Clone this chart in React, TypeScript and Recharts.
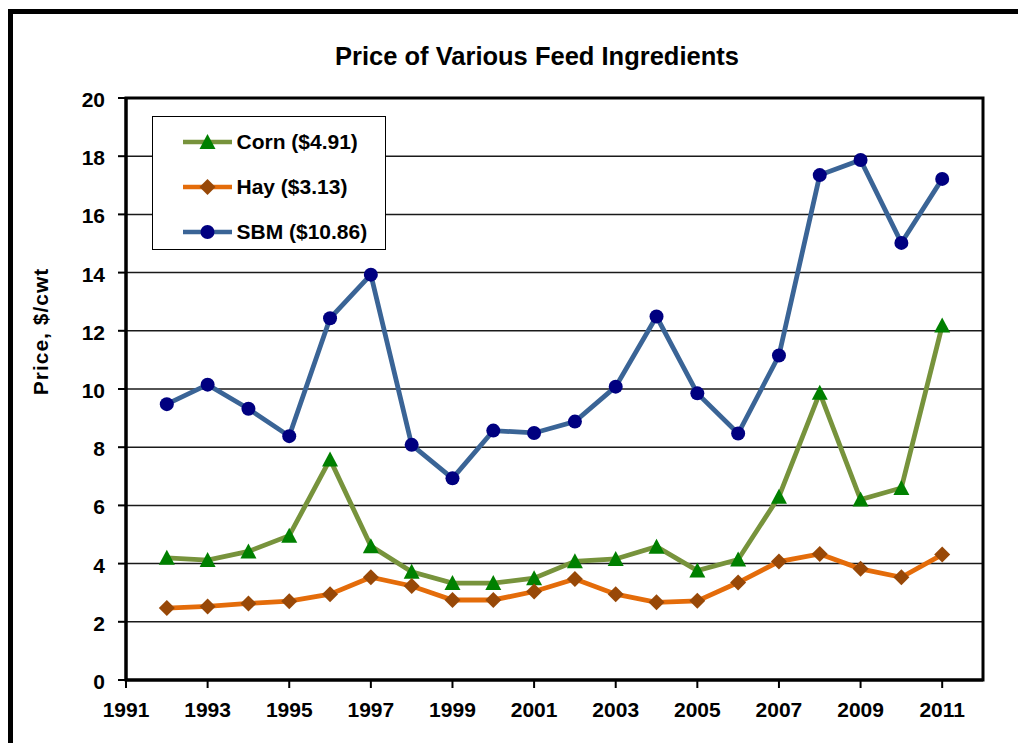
import { CartesianGrid, Line, LineChart, ReferenceArea, XAxis, YAxis } from "recharts";

const years = [
  1992, 1993, 1994, 1995, 1996, 1997, 1998, 1999, 2000, 2001,
  2002, 2003, 2004, 2005, 2006, 2007, 2008, 2009, 2010, 2011
];
const cornPrice = [
  4.2, 4.12, 4.42, 4.96, 7.58, 4.6, 3.72, 3.33, 3.33, 3.5,
  4.08, 4.16, 4.58, 3.76, 4.14, 6.3, 9.87, 6.2, 6.6, 12.18
];
const hayPrice = [
  2.47, 2.53, 2.63, 2.71, 2.95, 3.53, 3.23, 2.75, 2.75, 3.04,
  3.47, 2.95, 2.67, 2.72, 3.35, 4.07, 4.33, 3.82, 3.53, 4.31
];
const sbmPrice = [
  9.48, 10.15, 9.32, 8.38, 12.43, 13.93, 8.08, 6.93, 8.57, 8.49,
  8.88, 10.08, 12.49, 9.85, 8.47, 11.15, 17.35, 17.87, 15.02, 17.22
];
const xTicks = [1991, 1993, 1995, 1997, 1999, 2001, 2003, 2005, 2007, 2009, 2011];
const yTicks = [0, 2, 4, 6, 8, 10, 12, 14, 16, 18, 20];

type Shape = "triangle" | "diamond" | "circle";

const seriesList: Array<{ key: string; label: string; line: string; marker: string; shape: Shape }> = [
  { key: "corn", label: "Corn ($4.91)", line: "#77933C", marker: "#008000", shape: "triangle" },
  { key: "hay", label: "Hay ($3.13)", line: "#E46C0A", marker: "#984807", shape: "diamond" },
  { key: "sbm", label: "SBM ($10.86)", line: "#3A6496", marker: "#000080", shape: "circle" }
];

const rows = years.map((year, i) => ({
  year,
  corn: cornPrice[i],
  hay: hayPrice[i],
  sbm: sbmPrice[i]
}));

const FONT = '"Liberation Sans", Arial, sans-serif';

function Marker({ shape, cx, cy, fill }: { shape: Shape; cx: number; cy: number; fill: string }) {
  if (shape === "triangle") {
    return <polygon points={`${cx},${cy - 8} ${cx + 8},${cy + 7} ${cx - 8},${cy + 7}`} fill={fill} />;
  }
  if (shape === "diamond") {
    return <polygon points={`${cx},${cy - 8} ${cx + 8},${cy} ${cx},${cy + 8} ${cx - 8},${cy}`} fill={fill} />;
  }
  return <circle cx={cx} cy={cy} r={7} fill={fill} />;
}

function XTick({ x, y, payload }: any) {
  return (
    <text x={x} y={y} dy="0.71em" textAnchor="middle" fontSize={21} fontWeight={700} fill="#000" fontFamily={FONT}>
      {payload.value}
    </text>
  );
}

function YTick({ x, y, payload }: any) {
  return (
    <text x={x} y={y} dy={9} textAnchor="end" fontSize={21} fontWeight={700} fill="#000" fontFamily={FONT}>
      {payload.value}
    </text>
  );
}

function LegendBox() {
  return (
    <div
      style={{
        position: "absolute",
        left: 152,
        top: 116,
        width: 234,
        height: 134,
        boxSizing: "border-box",
        border: "1.5px solid #000",
        background: "#fff",
        paddingTop: 2,
        fontFamily: FONT
      }}
    >
      {seriesList.map((s) => (
        <div key={s.key} style={{ height: 45, display: "flex", alignItems: "center" }}>
          <svg width={49} height={20} style={{ marginLeft: 29.5, display: "block" }}>
            <line x1={0} y1={10} x2={49} y2={10} stroke={s.line} strokeWidth={4.5} />
            <Marker shape={s.shape} cx={24.5} cy={10} fill={s.marker} />
          </svg>
          <span style={{ marginLeft: 5, fontSize: 21, fontWeight: 700, lineHeight: 1, color: "#000" }}>{s.label}</span>
        </div>
      ))}
    </div>
  );
}

export default function App() {
  return (
    <div style={{ position: "fixed", left: 0, top: 0, width: 1018, height: 743, overflow: "hidden", background: "#fff" }}>
      <div
        style={{
          position: "absolute",
          left: 8,
          top: 9,
          width: 1200,
          height: 1000,
          boxSizing: "border-box",
          border: "5px solid #000"
        }}
      />
      <div style={{ position: "absolute", left: 8, top: 8, width: 1010, height: 735 }}>
        <LineChart width={1010} height={735} data={rows} margin={{ top: 90, right: 35, bottom: 23, left: 58 }}>
          <CartesianGrid horizontal vertical={false} stroke="#1a1a1a" strokeWidth={1.5} />
          <XAxis
            dataKey="year"
            type="number"
            domain={[1991, 2012]}
            ticks={xTicks}
            interval={0}
            height={40}
            tickSize={8}
            tickMargin={14}
            axisLine={{ stroke: "#000", strokeWidth: 3 }}
            tickLine={{ stroke: "#000", strokeWidth: 2 }}
            tick={<XTick />}
          />
          <YAxis
            type="number"
            domain={[0, 20]}
            ticks={yTicks}
            interval={0}
            width={60}
            tickSize={8}
            tickMargin={13}
            axisLine={{ stroke: "#000", strokeWidth: 3 }}
            tickLine={{ stroke: "#000", strokeWidth: 2 }}
            tick={<YTick />}
          />
          <ReferenceArea x1={1991} x2={2012} y1={0} y2={20} fill="none" stroke="#000" strokeWidth={3} />
          {seriesList.map((s) => (
            <Line
              key={s.key}
              dataKey={s.key}
              name={s.label}
              stroke={s.line}
              strokeWidth={4.8}
              isAnimationActive={false}
              activeDot={false}
              dot={(props: any) => (
                <Marker key={`${s.key}-${props.index}`} shape={s.shape} cx={props.cx} cy={props.cy} fill={s.marker} />
              )}
            />
          ))}
          <text x={529} y={57} textAnchor="middle" fontSize={25.5} fontWeight={700} fill="#000" fontFamily={FONT}>
            Price of Various Feed Ingredients
          </text>
          <text
            x={40}
            y={323.5}
            transform="rotate(-90 40 323.5)"
            textAnchor="middle"
            fontSize={21}
            fontWeight={700}
            fill="#000"
            fontFamily={FONT}
            letterSpacing={1}
          >
            Price, $/cwt
          </text>
        </LineChart>
      </div>
      <LegendBox />
    </div>
  );
}
